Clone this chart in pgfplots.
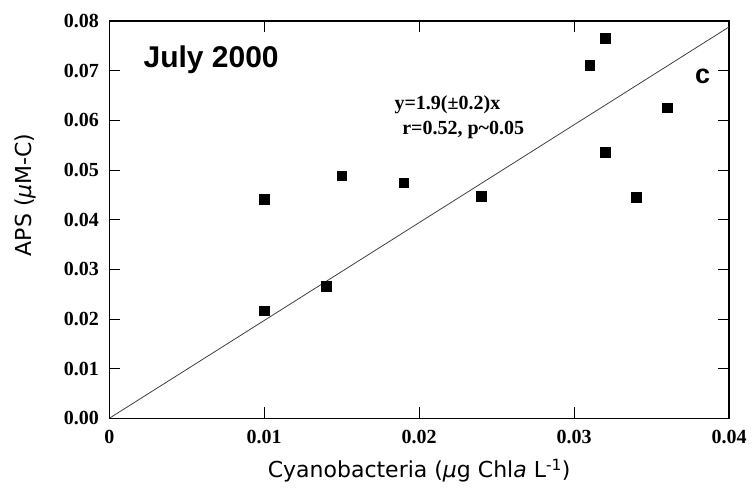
\documentclass[border=0pt]{standalone}
\usepackage{fontspec}
\setmainfont{Liberation Serif}
\newfontfamily\labelfont{DejaVu Sans}
\newfontfamily\headfont{Liberation Sans}
\usepackage{pgfplots}
\pgfplotsset{compat=1.18}

\begin{document}
\begin{tikzpicture}
\begin{axis}[
  at={(0,0)}, anchor=south west,
  scale only axis, width=619.7pt, height=397.3pt,
  xmin=0, xmax=0.04, ymin=0, ymax=0.08,
  scaled ticks=false,
  xtick={0,0.01,0.02,0.03,0.04},
  xticklabels={0,0.01,0.02,0.03,0.04},
  ytick={0,0.01,0.02,0.03,0.04,0.05,0.06,0.07,0.08},
  yticklabels={0.00,0.01,0.02,0.03,0.04,0.05,0.06,0.07,0.08},
  minor tick num=0,
  tick pos=both,
  tick align=inside, major tick length=11pt,
  tick style={black, line width=0.9pt},
  axis line style={black, line width=1.2pt},
  /pgf/number format/assume math mode=true,
  ticklabel style={font=\bfseries\fontsize{20}{24}\selectfont},
  xticklabel style={yshift=-8pt},
  yticklabel shift=7pt,
  xlabel={Cyanobacteria ({\itshape μ}g Chl{\itshape a} L\textsuperscript{-1})},
  xlabel style={font=\labelfont\fontsize{22}{26}\selectfont,
    at={(axis description cs:0.5,-0.150)}, anchor=base, inner sep=0pt},
  ylabel={APS ({\itshape μ}M-C)},
  ylabel style={font=\labelfont\fontsize{22}{26}\selectfont,
    at={(axis description cs:-0.136,0.5625)}, anchor=center, inner sep=0pt},
]
% regression line through the origin
\addplot[black!75, line width=0.8pt] coordinates {(0,0) (0.04,0.0788)};
% observations
\addplot[only marks, mark=square*, mark size=4.7pt, black] coordinates {
  (0.010,0.0441) (0.015,0.0488) (0.010,0.0217) (0.014,0.0266)
  (0.019,0.0474) (0.024,0.0447) (0.031,0.0711) (0.032,0.0765)
  (0.032,0.0536) (0.034,0.0445) (0.036,0.0626)
};
\node[anchor=base west, inner sep=0pt, font=\headfont\bfseries\fontsize{30}{36}\selectfont]
  at (axis cs:0.0022,0.0707) {July 2000};
\node[anchor=base west, inner sep=0pt, font=\headfont\bfseries\fontsize{27}{32}\selectfont]
  at (axis cs:0.0378,0.0675) {c};
\node[anchor=base west, inner sep=0pt, font=\bfseries\fontsize{20}{24}\selectfont]
  at (axis cs:0.0184,0.0622) {y=1.9(±0.2)x};
\node[anchor=base west, inner sep=0pt, font=\bfseries\fontsize{20}{24}\selectfont]
  at (axis cs:0.0189,0.0572) {r=0.52, p\textasciitilde 0.05};
\end{axis}
\pgfresetboundingbox
\path (-109.3pt,-72.7pt) rectangle (642.7pt,418.3pt);
\end{tikzpicture}
\end{document}
